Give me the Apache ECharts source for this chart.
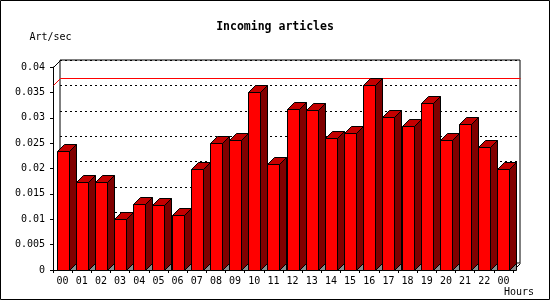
<!DOCTYPE html>
<html>
<head>
<meta charset="utf-8">
<script src="https://cdn.jsdelivr.net/npm/echarts@6/dist/echarts.min.js"></script>
<style>
html,body{margin:0;padding:0;background:#fff;}
#chart{width:550px;height:300px;}
</style>
</head>
<body>
<div id="chart"></div>
<script>
var titleText = 'Incoming articles';
var yAxisName = 'Art/sec';
var xAxisName = 'Hours';
var hours = ['00','01','02','03','04','05','06','07','08','09','10','11','12','13','14','15','16','17','18','19','20','21','22','00'];
var values = [0.0234, 0.0173, 0.0173, 0.0100, 0.0131, 0.0128, 0.0108, 0.0200, 0.0250, 0.0256, 0.0350, 0.0208,
              0.0317, 0.0315, 0.0260, 0.0269, 0.0364, 0.0301, 0.0283, 0.0329, 0.0256, 0.0287, 0.0242, 0.0200];
var yMin = 0;
var yMax = 0.04;
var yStep = 0.005;

var FONT = 'DejaVu Sans Mono';
var DEPTH = 7;
var HALF = 6;

var chart = echarts.init(document.getElementById('chart'), null, {renderer: 'canvas'});

var barData = values.map(function (v, i) { return [i, v]; });
var maxVal = Math.max.apply(null, values);

function renderBar(params, api) {
  var i = api.value(0);
  var v = api.value(1);
  var top = api.coord([i, v]);
  var base = api.coord([i, 0]);
  var cx = Math.round(top[0]) + 0.5;
  var yt = Math.round(top[1]) + 0.5;
  var yb = Math.round(base[1]) + 0.5;
  var l = cx - HALF, r = cx + HALF, d = DEPTH;
  var stroke = {stroke: '#000', lineWidth: 1};
  return {
    type: 'group',
    children: [
      {type: 'polygon', shape: {points: [[r, yb], [r + d, yb - d], [r + d, yb]]},
       style: {fill: '#8c8c8c', stroke: '#000', lineWidth: 1}},
      {type: 'polygon', shape: {points: [[r, yt], [r + d, yt - d], [r + d, yb - d], [r, yb]]},
       style: Object.assign({fill: '#800000'}, stroke)},
      {type: 'polygon', shape: {points: [[l, yt], [l + d, yt - d], [r + d, yt - d], [r, yt]]},
       style: Object.assign({fill: '#c40000'}, stroke)},
      {type: 'rect', shape: {x: l, y: yt, width: r - l, height: yb - yt},
       style: Object.assign({fill: '#ff0000'}, stroke)}
    ]
  };
}

function renderFrame(params, api) {
  var n = hours.length;
  var band = api.size([1, 0])[0];
  var first = api.coord([0, yMax]);
  var last = api.coord([n - 1, yMin]);
  var redP = api.coord([0, maxVal]);
  var xl = Math.round(first[0] - band / 2) + 0.5;
  var xr = Math.round(last[0] + band / 2) + 0.5;
  var yt = Math.round(first[1]) + 0.5;
  var yb = Math.round(last[1]) + 0.5;
  var yr = Math.round(redP[1]) + 0.5;
  var d = DEPTH;
  return {
    type: 'group',
    children: [
      {type: 'line', shape: {x1: xl, y1: yt, x2: xl + d, y2: yt - d}, style: {stroke: '#000', lineWidth: 1}},
      {type: 'line', shape: {x1: xr, y1: yb, x2: xr + d, y2: yb - d}, style: {stroke: '#000', lineWidth: 1}},
      {type: 'line', shape: {x1: xl, y1: yr, x2: xl + d, y2: yr - d}, style: {stroke: '#ff0000', lineWidth: 1}},
      {type: 'line', shape: {x1: xl + d, y1: yr - d, x2: xr + d, y2: yr - d}, style: {stroke: '#ff0000', lineWidth: 1}}
    ]
  };
}

var option = {
  animation: false,
  backgroundColor: '#ffffff',
  textStyle: {fontFamily: FONT, color: '#000'},
  title: [
    {text: titleText, left: 'center', top: 21, padding: 0,
     textStyle: {fontFamily: FONT, fontSize: 11.5, fontWeight: 'bold', color: '#000'}},
    {text: xAxisName, left: 504, top: 287, padding: 0,
     textStyle: {fontFamily: FONT, fontSize: 10, fontWeight: 'normal', color: '#000'}}
  ],
  graphic: [
    {type: 'rect', shape: {x: 0.5, y: 0.5, width: 549, height: 299},
     style: {fill: 'none', stroke: '#000', lineWidth: 1}, z: 100, silent: true}
  ],
  grid: [
    {left: 53, top: 67, width: 460, height: 203, show: false},
    {left: 60, top: 60, width: 460, height: 203, show: true, borderColor: '#000', borderWidth: 1, backgroundColor: 'transparent'}
  ],
  xAxis: [
    {type: 'category', gridIndex: 0, data: hours, boundaryGap: true,
     axisLine: {show: true, lineStyle: {color: '#000', width: 1}},
     axisTick: {show: true, length: 3, lineStyle: {color: '#000'}},
     axisLabel: {interval: 0, margin: 6, fontFamily: FONT, fontSize: 10, color: '#000'},
     splitLine: {show: false}},
    {type: 'category', gridIndex: 1, data: hours, boundaryGap: true,
     axisLine: {show: false}, axisTick: {show: false}, axisLabel: {show: false}, splitLine: {show: false}}
  ],
  yAxis: [
    {type: 'value', gridIndex: 0, min: yMin, max: yMax, interval: yStep,
     name: yAxisName, nameLocation: 'end', nameGap: 25,
     nameTextStyle: {fontFamily: FONT, fontSize: 10, color: '#000', align: 'center', padding: [0, 0, 0, -5]},
     axisLine: {show: true, lineStyle: {color: '#000', width: 1}},
     axisTick: {show: true, length: 3, lineStyle: {color: '#000'}},
     axisLabel: {margin: 8, fontFamily: FONT, fontSize: 10, color: '#000'},
     splitLine: {show: false}},
    {type: 'value', gridIndex: 1, min: yMin, max: yMax, interval: yStep,
     axisLine: {show: false}, axisTick: {show: false}, axisLabel: {show: false},
     splitLine: {show: true, lineStyle: {color: '#000', type: [2, 3], width: 1}}}
  ],
  series: [
    {type: 'custom', xAxisIndex: 0, yAxisIndex: 0, data: [[0, 0]], renderItem: renderFrame, z: 4, silent: true},
    {type: 'custom', xAxisIndex: 0, yAxisIndex: 0, data: barData, renderItem: renderBar, z: 5, silent: true}
  ]
};
chart.setOption(option);
</script>
</body>
</html>
